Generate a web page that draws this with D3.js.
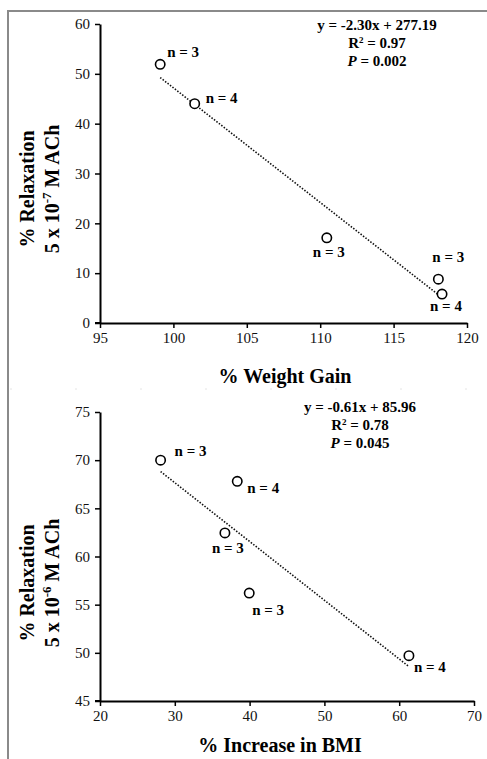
<!DOCTYPE html>
<html>
<head>
<meta charset="utf-8">
<script src="https://cdn.jsdelivr.net/npm/d3@7"></script>
<style>
  body { margin: 0; background: #fff; }
  svg { display: block; font-family: "Liberation Serif", "Times New Roman", serif; }
</style>
</head>
<body>
<svg id="chart" width="487" height="759"></svg>
<script>
// --- data ---
const weightGain = [99.1, 101.45, 110.45, 118.05, 118.3];
const relax7 = [51.9, 44.0, 17.1, 8.8, 5.8];
const nTop = [3, 4, 3, 3, 4];
const topXTicks = [95, 100, 105, 110, 115, 120];
const topYTicks = [0, 10, 20, 30, 40, 50, 60];
const topFit = { slope: -2.30, intercept: 277.19 };
const topStats = ["y = -2.30x + 277.19", "0.97", "0.002"];

const bmiIncrease = [28.1, 38.35, 36.7, 39.95, 61.3];
const relax6 = [70.0, 67.8, 62.45, 56.2, 49.7];
const nBottom = [3, 4, 3, 3, 4];
const bottomXTicks = [20, 30, 40, 50, 60, 70];
const bottomYTicks = [45, 50, 55, 60, 65, 70, 75];
const bottomFit = { slope: -0.61, intercept: 85.96 };
const bottomStats = ["y = -0.61x + 85.96", "0.78", "0.045"];

// label nudges (pixels) for the "n = x" annotations
const topLabelNudge = [[7, -7], [11, -1], [-14, 19], [-6, -17], [-12, 17]];
const bottomLabelNudge = [[14, -4], [10, 12], [-13, 20], [3, 22], [5, 16]];

const svg = d3.select("#chart");

// frame lines of the original figure
svg.append("line").attr("x1", 8).attr("x2", 487).attr("y1", 11).attr("y2", 11)
  .attr("stroke", "#8a8a8a").attr("stroke-width", 2);
svg.append("line").attr("x1", 8).attr("x2", 8).attr("y1", 10).attr("y2", 759)
  .attr("stroke", "#8a8a8a").attr("stroke-width", 2);
svg.append("line").attr("x1", 10).attr("x2", 487).attr("y1", 389).attr("y2", 389)
  .attr("stroke", "#e4e4e4").attr("stroke-width", 1).attr("stroke-dasharray", "2,63");

function panel(cfg) {
  const x = d3.scaleLinear().domain(cfg.xDomain).range([cfg.left, cfg.right]);
  const y = d3.scaleLinear().domain(cfg.yDomain).range([cfg.bottom, cfg.top]);
  const g = svg.append("g");

  const xAxis = g.append("g")
    .attr("transform", "translate(0," + cfg.bottom + ")")
    .call(d3.axisBottom(x).tickValues(cfg.xTicks).tickSize(5).tickPadding(4).tickSizeOuter(0));
  const yAxis = g.append("g")
    .attr("transform", "translate(" + cfg.left + ",0)")
    .call(d3.axisLeft(y).tickValues(cfg.yTicks).tickSize(5).tickPadding(5).tickSizeOuter(0));
  [xAxis, yAxis].forEach(a => {
    a.select(".domain").attr("stroke", "#000").attr("stroke-width", 2);
    a.selectAll(".tick line").attr("stroke", "#000").attr("stroke-width", 1.5);
    a.selectAll(".tick text")
      .attr("font-family", "Liberation Serif, serif")
      .attr("font-size", 15).attr("fill", "#111");
  });
  // extend x axis slightly left of the y axis, like the original
  g.append("line").attr("x1", cfg.left - 5).attr("x2", cfg.left)
    .attr("y1", cfg.bottom).attr("y2", cfg.bottom)
    .attr("stroke", "#000").attr("stroke-width", 2);

  // trend line over the data range
  const xs = d3.extent(cfg.xs);
  g.append("line")
    .attr("x1", x(xs[0])).attr("y1", y(cfg.fit.slope * xs[0] + cfg.fit.intercept))
    .attr("x2", x(xs[1])).attr("y2", y(cfg.fit.slope * xs[1] + cfg.fit.intercept))
    .attr("stroke", "#111").attr("stroke-width", 1.6)
    .attr("stroke-dasharray", "1.5,1.6");

  const pts = cfg.xs.map((v, i) => ({ x: v, y: cfg.ys[i], n: cfg.ns[i], nudge: cfg.nudge[i] }));

  g.selectAll("circle.pt")
    .data(pts)
    .enter()
    .append("circle")
      .attr("class", "pt")
      .attr("cx", d => x(d.x))
      .attr("cy", d => y(d.y))
      .attr("r", 4.7)
      .attr("fill", "#fff")
      .attr("stroke", "#000")
      .attr("stroke-width", 1.6);

  g.selectAll("text.n")
    .data(pts)
    .enter()
    .append("text")
      .attr("class", "n")
      .attr("x", d => x(d.x) + d.nudge[0])
      .attr("y", d => y(d.y) + d.nudge[1])
      .attr("font-size", 15).attr("font-weight", "bold")
      .text(d => "n = " + d.n);

  // regression stats
  const st = g.append("g").attr("font-size", 15).attr("font-weight", "bold")
    .attr("text-anchor", "middle");
  st.append("text").attr("x", cfg.statsX).attr("y", cfg.statsY).text(cfg.stats[0]);
  const r2 = st.append("text").attr("x", cfg.statsX).attr("y", cfg.statsY + 18);
  r2.append("tspan").text("R");
  r2.append("tspan").attr("font-size", 9).attr("dy", -5).text("2");
  r2.append("tspan").attr("dy", 5).text(" = " + cfg.stats[1]);
  const p = st.append("text").attr("x", cfg.statsX).attr("y", cfg.statsY + 36);
  p.append("tspan").attr("font-style", "italic").text("P");
  p.append("tspan").text(" = " + cfg.stats[2]);

  // x title
  g.append("text")
    .attr("x", cfg.xTitleX).attr("y", cfg.xTitleY)
    .attr("text-anchor", "middle")
    .attr("font-size", 20).attr("font-weight", "bold")
    .text(cfg.xTitle);

  // y title (two lines, rotated)
  const yt = g.append("g")
    .attr("transform", "translate(0," + cfg.yTitleY + ") rotate(-90)")
    .attr("text-anchor", "middle")
    .attr("font-size", 20).attr("font-weight", "bold");
  yt.append("text").attr("x", 0).attr("y", 34).text("% Relaxation");
  const l2 = yt.append("text").attr("x", 0).attr("y", 59);
  l2.append("tspan").text("5 x 10");
  l2.append("tspan").attr("font-size", 13).attr("dy", -8).text(cfg.exp);
  l2.append("tspan").attr("dy", 8).text(" M ACh");
}

panel({
  xs: weightGain, ys: relax7, ns: nTop, nudge: topLabelNudge,
  xDomain: [95, 120], yDomain: [0, 60], xTicks: topXTicks, yTicks: topYTicks,
  left: 100, right: 467, top: 24, bottom: 323,
  fit: topFit, stats: topStats, statsX: 377, statsY: 30,
  xTitle: "% Weight Gain", xTitleX: 285, xTitleY: 383,
  yTitleY: 189, exp: "-7"
});

panel({
  xs: bmiIncrease, ys: relax6, ns: nBottom, nudge: bottomLabelNudge,
  xDomain: [20, 70], yDomain: [45, 75], xTicks: bottomXTicks, yTicks: bottomYTicks,
  left: 100, right: 474, top: 412, bottom: 701,
  fit: bottomFit, stats: bottomStats, statsX: 360, statsY: 412,
  xTitle: "% Increase in BMI", xTitleX: 280, xTitleY: 752,
  yTitleY: 583, exp: "-6"
});
</script>
</body>
</html>
